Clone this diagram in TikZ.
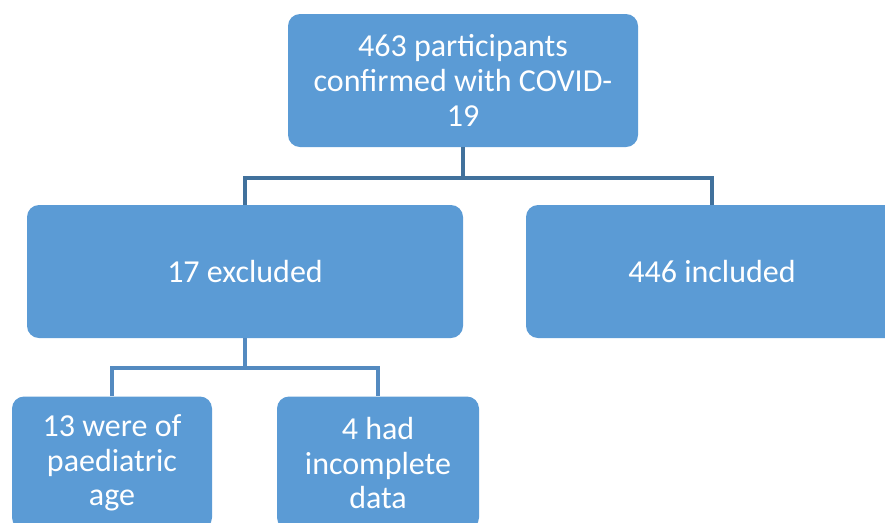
\documentclass[tikz,border=0pt]{standalone}
\usepackage{fontspec}
\setmainfont{Carlito}
\usepackage{tikz}
\usetikzlibrary{positioning}
\definecolor{boxblue}{RGB}{91, 155, 213}
\definecolor{linkdark}{RGB}{65, 113, 156}
\definecolor{linklight}{RGB}{84, 138, 192}

\begin{document}
\begin{tikzpicture}[
  x=0.75pt, y=-0.75pt,
  box/.style={rectangle, rounded corners=9pt, fill=boxblue, text=white,
              minimum height=99.75pt, align=center,
              font=\fontsize{24}{26}\selectfont},
  link/.style={line width=2.5pt}
]
\useasboundingbox (0,0) rectangle (885,522);

\node[box, minimum width=262.5pt] (total) at (463,80.5)
  {463 participants\\confirmed with COVID-\\19};
\node[box, minimum width=327pt] (excl) at (245,271.5) {17 excluded};
\node[box, minimum width=279pt] (incl) at (712,271.5) {446 included};
\node[box, minimum width=150pt] (paed) at (112,463) {13 were of\\paediatric\\age};
\node[box, minimum width=151.5pt] (incomp) at (378,463) {4 had\\incomplete\\data};

% connectors
\coordinate (busA) at (0,178);
\coordinate (busB) at (0,368);
\draw[link, linkdark] (total.south) -- (total.south |- busA) -| (excl.north);
\draw[link, linkdark] (total.south |- busA) -| (incl.north);
\draw[link, linklight] (excl.south) -- (excl.south |- busB) -| (paed.north);
\draw[link, linklight] (excl.south |- busB) -| (incomp.north);

\end{tikzpicture}
\end{document}
